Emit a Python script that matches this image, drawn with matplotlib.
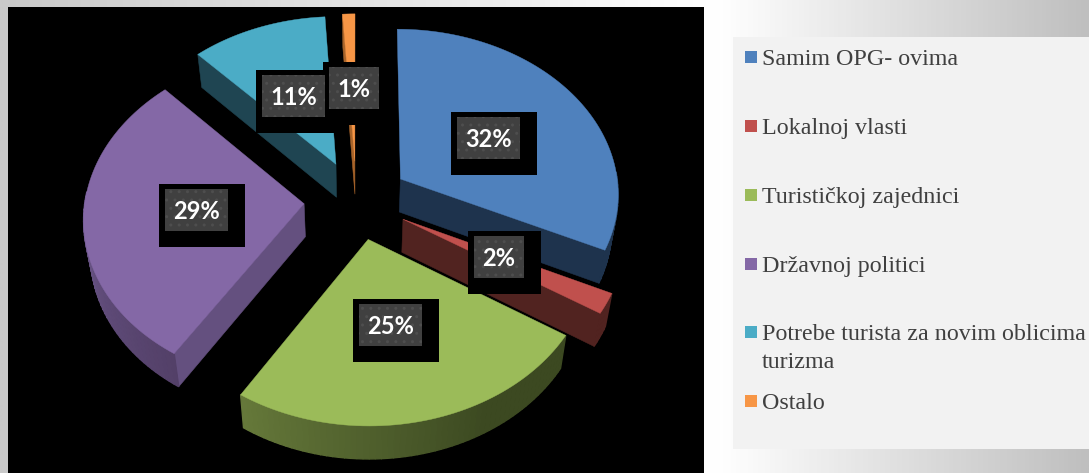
import numpy as np
import matplotlib
matplotlib.use("Agg")
import matplotlib.pyplot as plt
from matplotlib.colors import LinearSegmentedColormap, to_rgb
from matplotlib.patches import Polygon, Rectangle

# data
categories = ["Samim OPG- ovima", "Lokalnoj vlasti", "Turističkoj zajednici",
              "Državnoj politici", "Potrebe turista za novim oblicima\nturizma", "Ostalo"]
shares = [32, 2, 25, 29, 11, 1]
top_colors = ["#4f81bd", "#c0504d", "#9bbb59", "#8468a6", "#4bacc6", "#f79646"]
side_colors = ["#1e334d", "#512320", "#4f6130", "#64507f", "#1f4552", "#a8642a"]
rim_from = ["#1e334d", "#512320", "#3c4921", "#534068", "#1f4552", "#a8642a"]
rim_to = ["#1e334d", "#512320", "#66793a", "#6b5689", "#1f4552", "#a8642a"]

# fake 3d pie, all in pixel space
CX, CY = 356.5, 200
RX, RY = 219, 165
PERSP = 0.08
EXPLODE = 0.24
DEPTH = 33
BOTTOM_SHRINK = 0.975  # bottom face pulls in towards the middle


def project(u, v):
    s = 1 / (1 + PERSP * v)
    return CX + RX * u * s, CY - RY * v * s


def lower(x, y):
    return CX + (x - CX) * BOTTOM_SHRINK, y + DEPTH


def blend(c1, c2, t):
    return tuple((1 - t) * a + t * b for a, b in zip(to_rgb(c1), to_rgb(c2)))


fig = plt.figure(figsize=(10.89, 4.73), dpi=100)
ax = fig.add_axes([0, 0, 1, 1])
ax.set_xlim(0, 1089)
ax.set_ylim(473, 0)
ax.axis("off")

# slide background
bg = LinearSegmentedColormap.from_list("bg", [(0, "#c9c9c9"), (0.66, "#ffffff"), (1, "#bfbfbf")])
ax.imshow(np.linspace(0, 1, 512).reshape(1, -1), cmap=bg, extent=(0, 1089, 473, 0), aspect="auto", zorder=0)
ax.set_xlim(0, 1089)
ax.set_ylim(473, 0)
ax.add_patch(Rectangle((8, 7), 696, 466, fc="black", ec="none", zorder=1))
ax.add_patch(Rectangle((733, 37), 356, 412, fc="#f2f2f2", ec="none", zorder=1))

# wedges
total = sum(shares)
edges = np.cumsum([0] + shares) / total * 2 * np.pi
for i in range(len(shares)):
    a0, a1 = edges[i], edges[i + 1]
    mid = (a0 + a1) / 2
    ou, ov = EXPLODE * np.sin(mid), EXPLODE * np.cos(mid)
    th = np.linspace(a0, a1, max(int((a1 - a0) * 40), 6))
    rx, ry = project(ou + np.sin(th), ov + np.cos(th))
    ax_, ay_ = project(ou, ov)
    z = 2 + i * 0.01

    # straight walls, only the ones facing the viewer
    for k, facing in ((0, np.sin(a0) < 0), (-1, np.sin(a1) > 0)):
        if not facing:
            continue
        wall = [(ax_, ay_), (rx[k], ry[k]), lower(rx[k], ry[k]), lower(ax_, ay_)]
        ax.add_patch(Polygon(wall, fc=side_colors[i], ec=side_colors[i], lw=0.4, zorder=z))

    # rim wall, shaded along the arc
    for k in range(len(th) - 1):
        if np.cos(th[k]) > 0.05:
            continue
        t = np.clip((np.degrees(th[k]) - 115) / 165, 0, 1)
        if i == 2:
            t = np.clip((np.degrees(th[k]) - 150) / 62, 0, 1)
        elif i == 3:
            t = np.clip((np.degrees(th[k]) - 212) / 60, 0, 1)
        col = blend(rim_from[i], rim_to[i], t)
        quad = [(rx[k], ry[k]), (rx[k + 1], ry[k + 1]),
                lower(rx[k + 1], ry[k + 1]), lower(rx[k], ry[k])]
        ax.add_patch(Polygon(quad, fc=col, ec=col, lw=1, zorder=z))

    # top face
    top = np.column_stack([np.r_[ax_, rx], np.r_[ay_, ry]])
    ax.add_patch(Polygon(top, fc=top_colors[i], ec=top_colors[i], lw=0.3, zorder=z + 0.005))

# data labels: grey box left/top corner, sitting on a black box
label_xy = [(457, 117), (474, 236), (359, 304), (165, 189), (262, 75), (329, 67)]
for val, (lx, ly) in zip(shares, label_xy):
    w = 63 if val >= 10 else 50
    ax.add_patch(Rectangle((lx - 6, ly - 5), w + 23, 63, fc="black", ec="none", zorder=4))
    ax.add_patch(Rectangle((lx, ly), w, 42, fc="#404040", ec="#4e4e4e", lw=0, hatch="..", zorder=4.1))
    ax.text(lx + w / 2, ly + 22.5, f"{val}%", color="white", fontsize=17, fontweight="bold",
            family="Lato", ha="center", va="center", zorder=4.2)

# legend
row_y = [57, 126, 195, 264, 332, 401]
for name, col, y in zip(categories, top_colors, row_y):
    ax.add_patch(Rectangle((745, y - 6), 12, 12, fc=col, ec="none", zorder=3))
    for n, line in enumerate(name.split("\n")):
        ax.text(762, y + 8 + n * 28, line, color="#404040", fontsize=17.3, family="Liberation Serif",
                ha="left", va="baseline", zorder=3)

fig.savefig("out.png", dpi=100)
